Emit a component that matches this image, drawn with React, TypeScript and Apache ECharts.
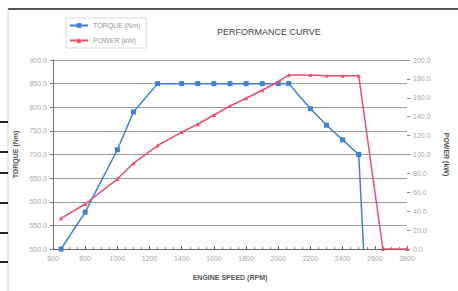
import React, { useEffect, useRef } from "react";
import * as echarts from "echarts";

const torqueRpm = [650, 800, 1000, 1100, 1250, 1400, 1500, 1600, 1700, 1800, 1900, 2000, 2065, 2200, 2300, 2400, 2500, 2530];
const torqueNm = [500, 578, 710, 790, 850, 850, 850, 850, 850, 850, 850, 850, 850, 797, 762, 731, 700, 500];
const powerRpm = [650, 800, 1000, 1100, 1250, 1400, 1500, 1600, 1700, 1800, 1900, 2000, 2065, 2200, 2300, 2400, 2500, 2650, 2800];
const powerKw = [32.5, 47.6, 74, 90.7, 109.5, 123.6, 132, 141.8, 151.3, 159.5, 168, 177, 184, 184, 183.3, 183.3, 183.3, 0, 0];

const seriesNames = ["TORQUE (Nm)", "POWER (kW)"];
const titleText = "PERFORMANCE CURVE";
const xName = "ENGINE SPEED (RPM)";
const yLeftName = "TORQUE (Nm)";
const yRightName = "POWER (kW)";

const BLUE = "#3f7fd6";
const RED = "#ef4d6b";
const FONT = "Liberation Sans";

export default function App() {
  const ref = useRef<HTMLDivElement>(null);
  useEffect(() => {
    if (!ref.current) return;
    const chart = echarts.init(ref.current, null, { renderer: "svg" });
    const torqueData = torqueRpm.map((r, i) =>
      i === torqueRpm.length - 1
        ? { value: [r, torqueNm[i]], symbol: "none" }
        : { value: [r, torqueNm[i]] }
    );
    const powerData = powerRpm.map((r, i) => [r, powerKw[i]]);
    const sideDashes = [122, 152, 173, 203, 233, 262];
    chart.setOption({
      animation: false,
      backgroundColor: "#ffffff",
      textStyle: { fontFamily: FONT },
      title: {
        text: titleText,
        left: 212,
        top: 22,
        textStyle: { fontSize: 9, fontWeight: "normal", color: "#444", fontFamily: FONT },
      },
      legend: {
        orient: "vertical",
        left: 66,
        top: 18,
        itemWidth: 18,
        itemHeight: 6,
        itemGap: 8,
        padding: [4, 6, 4, 3],
        borderColor: "#d8d8d8",
        borderWidth: 1,
        data: seriesNames,
        textStyle: { fontSize: 7, color: "#999", fontFamily: FONT },
      },
      grid: { left: 53, right: 48, top: 60, bottom: 42 },
      xAxis: {
        type: "value",
        min: 600,
        max: 2800,
        interval: 200,
        name: xName,
        nameLocation: "middle",
        nameGap: 25,
        nameTextStyle: { fontSize: 7, color: "#555", fontWeight: "bold", fontFamily: FONT },
        axisLine: { lineStyle: { color: "#666", width: 1 } },
        axisTick: { show: true, inside: true, length: 3, lineStyle: { color: "#666" } },
        minorTick: { show: true, splitNumber: 4, length: 2, lineStyle: { color: "#888" } },
        axisLabel: { fontSize: 7, color: "#aaa", margin: 6, formatter: (v: number) => String(v) },
        splitLine: { show: false },
      },
      yAxis: [
        {
          type: "value",
          min: 500,
          max: 900,
          interval: 50,
          name: yLeftName,
          nameLocation: "middle",
          nameGap: 28,
          nameTextStyle: { fontSize: 7, color: "#555", fontWeight: "bold", fontFamily: FONT },
          axisLine: { show: true, lineStyle: { color: "#777" } },
          axisTick: { show: true, length: 3, lineStyle: { color: "#777" } },
          axisLabel: { fontSize: 7, color: "#aaa", margin: 6, formatter: (v: number) => v.toFixed(1) },
          splitLine: { show: true, lineStyle: { color: "#9a9a9a", width: 1 } },
        },
        {
          type: "value",
          min: 0,
          max: 200,
          interval: 20,
          position: "right",
          name: yRightName,
          nameLocation: "middle",
          nameGap: 36,
          nameRotate: -90,
          nameTextStyle: { fontSize: 7, color: "#555", fontWeight: "bold", fontFamily: FONT },
          axisLine: { show: false },
          axisTick: { show: true, length: 3, lineStyle: { color: "#888" } },
          axisLabel: { fontSize: 7, color: "#aaa", margin: 6, formatter: (v: number) => v.toFixed(1) },
          splitLine: { show: false },
        },
      ],
      series: [
        {
          name: seriesNames[0],
          type: "line",
          yAxisIndex: 0,
          data: torqueData,
          symbol: "rect",
          symbolSize: 5,
          itemStyle: { color: BLUE },
          lineStyle: { color: BLUE, width: 1.5 },
          clip: true,
        },
        {
          name: seriesNames[1],
          type: "line",
          yAxisIndex: 1,
          data: powerData,
          symbol: "triangle",
          symbolSize: 4,
          itemStyle: { color: RED },
          lineStyle: { color: RED, width: 1.5 },
          clip: true,
        },
      ],
      graphic: [
        { type: "line", shape: { x1: 8, y1: 9, x2: 458, y2: 9 }, style: { stroke: "#555", lineWidth: 2 } },
        { type: "line", shape: { x1: 8, y1: 9, x2: 8, y2: 291 }, style: { stroke: "#ccc", lineWidth: 1 } },
        ...sideDashes.map((y) => ({
          type: "line",
          shape: { x1: 0, y1: y, x2: 8, y2: y },
          style: { stroke: "#222", lineWidth: 2 },
        })),
      ],
    });
    return () => chart.dispose();
  }, []);
  return (
    <div
      ref={ref}
      style={{ position: "fixed", left: 0, top: 0, width: 458, height: 291 }}
    />
  );
}
